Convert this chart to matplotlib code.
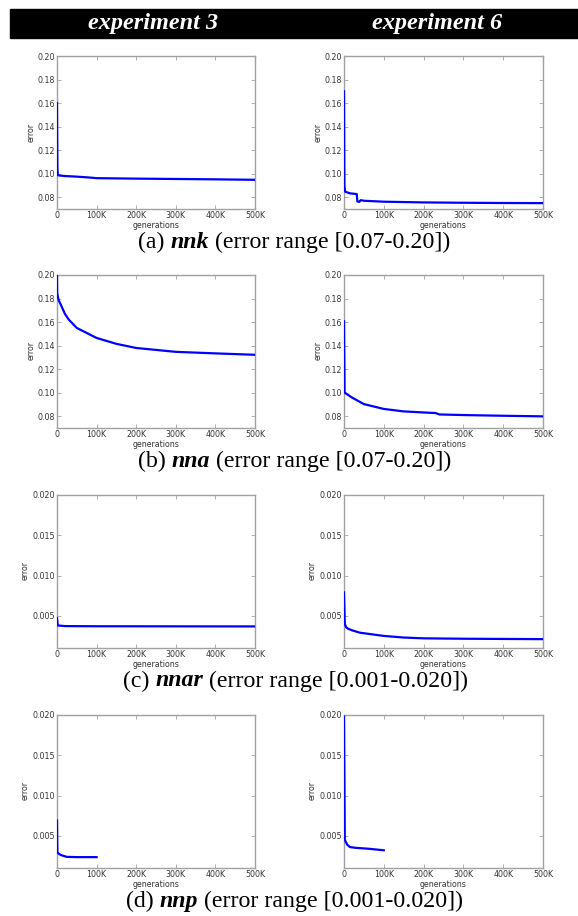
import numpy as np
import matplotlib
matplotlib.use("Agg")
import matplotlib.pyplot as plt
from matplotlib.patches import Rectangle
from matplotlib.ticker import FuncFormatter

# ---- data (generations in K, error) ----
a3_x = [0, 1, 2, 5, 20, 50, 80, 100, 150, 200, 300, 400, 500]
a3_y = [0.160, 0.105, 0.099, 0.0985, 0.098, 0.0975, 0.0968, 0.0962, 0.0960, 0.0958, 0.0955, 0.0952, 0.0948]
a6_x = [0, 1, 3, 15, 32, 33.5, 38, 42, 50, 100, 200, 300, 400, 500]
a6_y = [0.170, 0.090, 0.0847, 0.0833, 0.0827, 0.0765, 0.0760, 0.0775, 0.0770, 0.0762, 0.0756, 0.0753, 0.0751, 0.0750]

b3_x = [0, 0.5, 2, 5, 10, 20, 30, 50, 100, 150, 200, 300, 400, 500]
b3_y = [0.200, 0.185, 0.1817, 0.178, 0.1745, 0.167, 0.162, 0.155, 0.1465, 0.1415, 0.138, 0.1347, 0.1334, 0.1322]
b6_x = [0, 1.5, 20, 50, 100, 150, 200, 230, 240, 300, 400, 500]
b6_y = [0.1606, 0.1001, 0.0959, 0.0903, 0.0862, 0.0841, 0.0832, 0.0827, 0.0815, 0.0810, 0.0804, 0.0799]

c3_x = [0, 2, 20, 100, 300, 500]
c3_y = [0.0047, 0.0038, 0.00372, 0.0037, 0.00369, 0.00368]
c6_x = [0, 2, 5, 10, 20, 40, 70, 100, 150, 200, 300, 500]
c6_y = [0.0079, 0.0040, 0.0036, 0.0034, 0.0032, 0.0029, 0.0027, 0.0025, 0.0023, 0.0022, 0.00215, 0.0021]

d3_x = [0, 1, 10, 25, 50, 100]
d3_y = [0.0069, 0.0029, 0.0026, 0.00238, 0.00235, 0.00235]
d6_x = [0, 2, 8, 15, 30, 60, 100]
d6_y = [0.0198, 0.0045, 0.0039, 0.0036, 0.0035, 0.0034, 0.0032]

headers = ["experiment 3", "experiment 6"]
rows = [
    ("(a) ", "nnk", " (error range [0.07-0.20])", (0.07, 0.20), [0.08, 0.10, 0.12, 0.14, 0.16, 0.18, 0.20], "%.2f",
     (a3_x, a3_y), (a6_x, a6_y)),
    ("(b) ", "nna", " (error range [0.07-0.20])", (0.07, 0.20), [0.08, 0.10, 0.12, 0.14, 0.16, 0.18, 0.20], "%.2f",
     (b3_x, b3_y), (b6_x, b6_y)),
    ("(c) ", "nnar", " (error range [0.001-0.020])", (0.001, 0.020), [0.005, 0.010, 0.015, 0.020], "%.3f",
     (c3_x, c3_y), (c6_x, c6_y)),
    ("(d) ", "nnp", " (error range [0.001-0.020])", (0.001, 0.020), [0.005, 0.010, 0.015, 0.020], "%.3f",
     (d3_x, d3_y), (d6_x, d6_y)),
]
xticks = [0, 100, 200, 300, 400, 500]

W, H = 578, 916
fig = plt.figure(figsize=(W / 100, H / 100), dpi=100)

def px(x0, y0, w, h):
    return [x0 / W, 1 - (y0 + h) / H, w / W, h / H]

# header bar
fig.patches.append(Rectangle((10 / W, 1 - 38 / H), (W - 10) / W, 29 / H,
                             transform=fig.transFigure, color="black", zorder=0))
col_left = [57, 344]
col_w = [198, 199]
head_x = [153, 437]
for c, t in enumerate(headers):
    fig.text(head_x[c] / W, 1 - 23.5 / H, t, color="white",
             family="Liberation Serif", weight="bold", style="italic",
             fontsize=17.5, ha="center", va="center")

tops = [56, 275, 495, 715]
spine_col = "#a0a0a0"
tick_col = "#333333"
fs = 5.7
cap_fs = 17.2
kfmt = FuncFormatter(lambda v, p: "0" if v == 0 else "%dK" % v)

for r, (pre, name, post, ylim, yt, yf, s3, s6) in enumerate(rows):
    for c, (sx, sy) in enumerate([s3, s6]):
        ax = fig.add_axes(px(col_left[c], tops[r], col_w[c], 153))
        ax.plot(sx, sy, color="#0000ff", lw=1.6, zorder=3)
        ax.set_xlim(0, 500)
        ax.set_ylim(*ylim)
        ax.set_xticks(xticks)
        ax.xaxis.set_major_formatter(kfmt)
        ax.set_yticks(yt)
        ax.yaxis.set_major_formatter(FuncFormatter(lambda v, p, f=yf: f % v))
        ax.tick_params(direction="in", top=True, right=True, length=3, width=0.6,
                       color=spine_col, labelsize=fs, labelcolor=tick_col, pad=1.5)
        for s in ax.spines.values():
            s.set_color(spine_col)
            s.set_linewidth(1.0)
        ax.set_xlabel("generations", fontsize=fs, color=tick_col, labelpad=0.5)
        base = col_left[c] - 57
        lx = 31 if r < 2 else 25
        ax.text((base + lx) / W, 1 - (tops[r] + 76) / H, "error",
                transform=fig.transFigure, rotation=90, fontsize=fs, color=tick_col,
                ha="center", va="center")
    # caption
    cy = 1 - (tops[r] + 153 + 33) / H
    t1 = fig.text(293 / W, cy, pre + name + post, fontsize=cap_fs, family="Liberation Serif",
                  ha="center", va="center", alpha=0)
    fig.canvas.draw()
    bb = t1.get_window_extent()
    x = bb.x0
    for part, kw in [(pre, {}), (name, {"weight": "bold", "style": "italic"}), (post, {})]:
        tt = fig.text(x / W, cy, part, fontsize=cap_fs, family="Liberation Serif",
                      ha="left", va="center", **kw)
        fig.canvas.draw()
        x = tt.get_window_extent().x1

fig.savefig("out.png", dpi=100)
